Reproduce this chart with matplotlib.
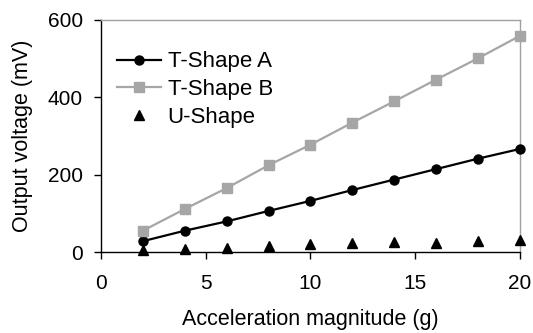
import matplotlib.pyplot as plt

plt.rcParams['font.family'] = ['Liberation Sans', 'DejaVu Sans']

accel = [2, 4, 6, 8, 10, 12, 14, 16, 18, 20]
t_shape_a = [28, 55, 79, 106, 132, 160, 187, 214, 241, 266]
t_shape_b = [55, 111, 165, 224, 277, 334, 389, 445, 500, 558]
u_shape = [4, 8, 11, 16, 20, 23, 25, 24, 28, 32]

fig = plt.figure(figsize=(5.33, 3.33), dpi=100, facecolor='white')
ax = fig.add_axes([0.1895, 0.2432, 0.7861, 0.6982])

ax.plot(accel, t_shape_a, color='black', marker='o', markersize=6.5, linewidth=1.6,
        label='T-Shape A', clip_on=False, zorder=3)
ax.plot(accel, t_shape_b, color='#a6a6a6', marker='s', markersize=6.5, linewidth=1.6,
        label='T-Shape B', clip_on=False, zorder=3)
ax.plot(accel, u_shape, color='black', marker='^', markersize=6.5, linestyle='none',
        label='U-Shape', clip_on=False, zorder=3)

ax.set_xlim(0, 20)
ax.set_ylim(0, 600)
ax.set_xticks([0, 5, 10, 15, 20])
ax.set_yticks([0, 200, 400, 600])
ax.tick_params(direction='out', length=5, width=1, labelsize=15, colors='black')
ax.tick_params(axis='x', pad=11)
ax.tick_params(axis='y', pad=8)
for s in ['top', 'right']:
    ax.spines[s].set_color('#a0a0a0')
    ax.spines[s].set_linewidth(1)
for s in ['left', 'bottom']:
    ax.spines[s].set_color('black')
    ax.spines[s].set_linewidth(1)

ax.set_xlabel('Acceleration magnitude (g)', fontsize=15.5, labelpad=11)
ax.set_ylabel('Output voltage (mV)', fontsize=15.5, labelpad=11)

ax.legend(loc='upper left', frameon=False, fontsize=16, handlelength=2.0,
          handletextpad=0.3, labelspacing=0.3, borderaxespad=0.3,
          bbox_to_anchor=(0.0, 0.93))

fig.savefig('out.png', dpi=100)
